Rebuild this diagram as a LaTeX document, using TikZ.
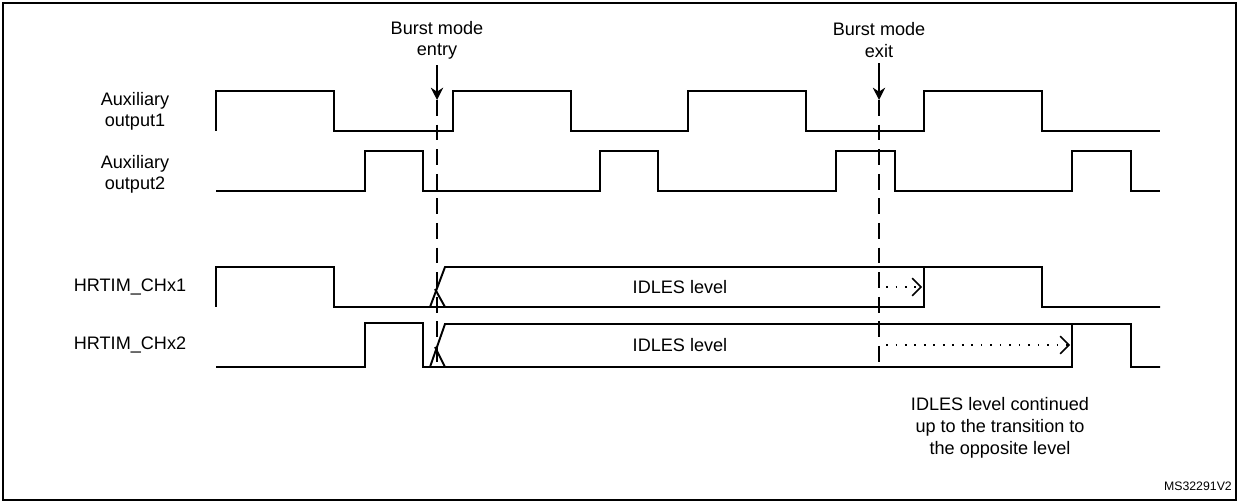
\documentclass[tikz,border=0pt]{standalone}
\usepackage{fontspec}
\setmainfont{Liberation Sans}
\usetikzlibrary{arrows.meta}
\tikzset{
  wave/.style={line width=1.1pt},
  lbl/.style={font=\fontsize{10.3}{12}\selectfont, align=center},
  burst/.style={dash pattern=on 9pt off 5pt, line width=0.9pt},
  idle/.style={dash pattern=on 0.9pt off 4.5pt, line width=0.9pt, -{Straight Barb[length=5pt,width=10pt]}}
}
\begin{document}
\begin{tikzpicture}[x=0.02cm,y=-0.02cm]
\useasboundingbox (0,0) rectangle (1239,502);
\draw[line width=0.6pt] (3,3) rectangle (1236,500);

% Auxiliary outputs
\draw[wave] (216,131) -- (216,91) -- (334,91) -- (334,131) -- (453,131) -- (453,91) -- (571,91) -- (571,131)
  -- (688,131) -- (688,91) -- (806,91) -- (806,131) -- (924,131) -- (924,91) -- (1042,91) -- (1042,131) -- (1160,131);
\draw[wave] (216,191) -- (365,191) -- (365,151) -- (423,151) -- (423,191) -- (600,191) -- (600,151) -- (658,151) -- (658,191)
  -- (836,191) -- (836,151) -- (895,151) -- (895,191) -- (1072,191) -- (1072,151) -- (1131,151) -- (1131,191) -- (1160,191);

% HRTIM outputs
\draw[wave] (216,307) -- (216,267) -- (334,267) -- (334,307) -- (924,307) -- (924,267);
\draw[wave] (430,307) -- (445,267) -- (1042,267) -- (1042,307) -- (1160,307);
\draw[wave] (445,307) -- (435,289);
\draw[wave] (216,367) -- (365,367) -- (365,323) -- (423,323) -- (423,367) -- (1072,367) -- (1072,323);
\draw[wave] (430,367) -- (445,324) -- (1131,324) -- (1131,367) -- (1160,367);
\draw[wave] (445,367) -- (435,347);

% Labels
\node[lbl] (aux1) at (135,111) {Auxiliary\\output1};
\node[lbl] (aux2) at (135,174) {Auxiliary\\output2};
\node[lbl] (ch1) at (130,287) {HRTIM\_CHx1};
\node[lbl] (ch2) at (130,345) {HRTIM\_CHx2};
\node[lbl] (idle1) at (680,287) {IDLES level};
\node[lbl] (idle2) at (680,345) {IDLES level};
\node[lbl] (entry) at (437,40) {Burst mode\\entry};
\node[lbl] (exit) at (879,40) {Burst mode\\exit};
\node[lbl, font=\fontsize{10.3}{12.5}\selectfont] (cont) at (1000,428) {IDLES level continued\\up to the transition to\\the opposite level};
\node[lbl, font=\fontsize{7}{8}\selectfont, anchor=south east] (ref) at (1238,497) {MS32291V2};

% Burst mode markers
\coordinate (entryT) at (437,100);
\coordinate (entryB) at (437,367);
\coordinate (exitT) at (879,100);
\coordinate (exitB) at (879,367);
\draw[burst] (entryT) -- (entryB);
\draw[burst] (exitT) -- (exitB);
\draw[-{Stealth[length=7pt,width=7pt]}, line width=0.9pt] (entry.south) -- (entryT);
\draw[-{Stealth[length=7pt,width=7pt]}, line width=0.9pt] (exit.south) -- (exitT);

% Continued idle level
\coordinate (idle1S) at (886,287);
\coordinate (idle1E) at (922,287);
\coordinate (idle2S) at (886,345);
\coordinate (idle2E) at (1070,345);
\draw[idle] (idle1S) -- (idle1E);
\draw[idle] (idle2S) -- (idle2E);
\end{tikzpicture}
\end{document}
